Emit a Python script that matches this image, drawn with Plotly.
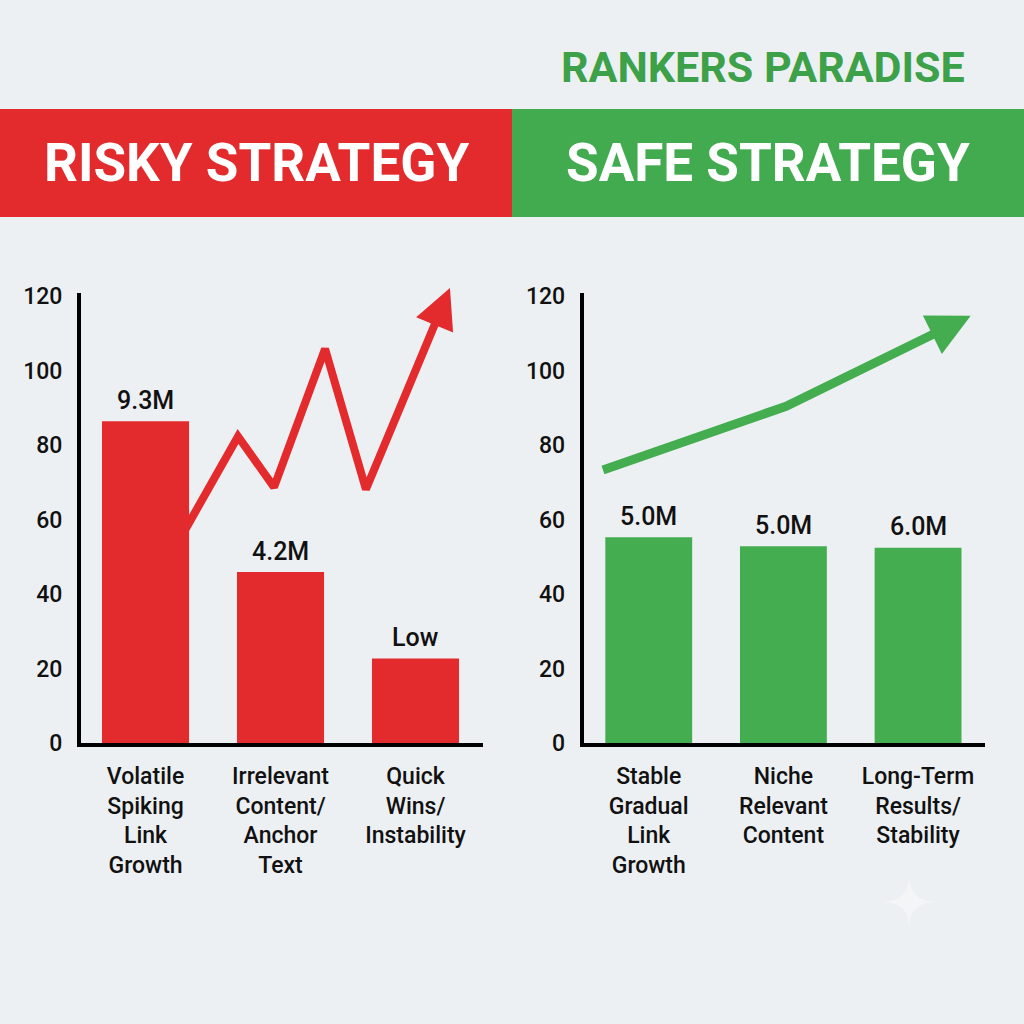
import plotly.graph_objects as go

# ---------------- data ----------------
risky_categories = ["Volatile<br>Spiking<br>Link<br>Growth",
                    "Irrelevant<br>Content/<br>Anchor<br>Text",
                    "Quick<br>Wins/<br>Instability"]
risky_values = [86.4, 45.9, 22.7]
risky_labels = ["9.3M", "4.2M", "Low"]
risky_trend_x = [0.29, 0.685, 0.952, 1.33, 1.633, 2.227]
risky_trend_y = [57.0, 82.3, 68.7, 105.8, 68.1, 119.7]

safe_categories = ["Stable<br>Gradual<br>Link<br>Growth",
                   "Niche<br>Relevant<br>Content",
                   "Long-Term<br>Results/<br>Stability"]
safe_values = [55.2, 52.8, 52.4]
safe_labels = ["5.0M", "5.0M", "6.0M"]
safe_trend_x = [-0.34, 1.02, 2.324]
safe_trend_y = [73.3, 90.4, 113.5]

y_ticks = [0, 20, 40, 60, 80, 100, 120]

title_text = "RANKERS PARADISE"
left_banner = "RISKY STRATEGY"
right_banner = "SAFE STRATEGY"

# ---------------- style ----------------
BG = "#edf0f3"
RED = "#e32b2d"
GREEN = "#43ad50"
BANNER_GREEN = "#42ab4f"
TITLE_GREEN = "#3ca149"
W = H = 1024
FONT = "Roboto"
HEAD = "Roboto"

def px(v):
    return v / W

def py(v):
    return 1 - v / H

fig = go.Figure()

risky_idx = list(range(len(risky_categories)))
safe_idx = list(range(len(safe_categories)))

fig.add_trace(go.Bar(x=risky_idx, y=risky_values, width=0.645, marker=dict(color=RED, line=dict(width=0)),
                     xaxis="x", yaxis="y", hoverinfo="skip"))
fig.add_trace(go.Scatter(x=risky_trend_x, y=risky_trend_y, mode="lines",
                         line=dict(color=RED, width=8), xaxis="x", yaxis="y", hoverinfo="skip"))

fig.add_trace(go.Bar(x=safe_idx, y=safe_values, width=0.645, marker=dict(color=GREEN, line=dict(width=0)),
                     xaxis="x2", yaxis="y2", hoverinfo="skip"))
fig.add_trace(go.Scatter(x=safe_trend_x, y=safe_trend_y, mode="lines",
                         line=dict(color=GREEN, width=9), xaxis="x2", yaxis="y2", hoverinfo="skip"))

label_font = dict(family=FONT, size=25, color="#111", weight=500)
annotations = []
for i, (v, t) in enumerate(zip(risky_values, risky_labels)):
    annotations.append(dict(x=i, y=v, xref="x", yref="y", text=t, showarrow=False,
                            yanchor="middle", yshift=21, font=label_font))
for i, (v, t) in enumerate(zip(safe_values, safe_labels)):
    annotations.append(dict(x=i, y=v, xref="x2", yref="y2", text=t, showarrow=False,
                            yanchor="middle", yshift=21, font=label_font))

# arrow heads at the end of the trend lines
annotations.append(dict(x=risky_trend_x[-1], y=risky_trend_y[-1], xref="x", yref="y", text="",
                        showarrow=True, arrowhead=2, arrowsize=1.0, arrowwidth=8, arrowcolor=RED,
                        ax=-11.5, ay=27.7, xshift=3.8, yshift=9.2, font=dict(size=1), borderpad=0))
annotations.append(dict(x=safe_trend_x[-1], y=safe_trend_y[-1], xref="x2", yref="y2", text="",
                        showarrow=True, arrowhead=2, arrowsize=0.95, arrowwidth=9, arrowcolor=GREEN,
                        ax=-26.9, ay=13.3, xshift=9.0, yshift=4.4, font=dict(size=1), borderpad=0))

# titles
annotations.append(dict(x=px(967), y=py(67), xref="paper", yref="paper", text="<b>%s</b>" % title_text,
                        showarrow=False, xanchor="right", yanchor="middle",
                        font=dict(family=HEAD, size=43, color=TITLE_GREEN)))
annotations.append(dict(x=px(256), y=py(163), xref="paper", yref="paper", text="<b>%s</b>" % left_banner,
                        showarrow=False, xanchor="center", yanchor="middle",
                        font=dict(family=HEAD, size=53, color="white")))
annotations.append(dict(x=px(768), y=py(163), xref="paper", yref="paper", text="<b>%s</b>" % right_banner,
                        showarrow=False, xanchor="center", yanchor="middle",
                        font=dict(family=HEAD, size=53, color="white")))

# banner rectangles and faint sparkle decoration
cx, cy, r = px(909), py(902), px(27)
sparkle = ("M {x0},{yt} Q {cx},{cy} {xr},{cy} Q {cx},{cy} {cx},{yb} Q {cx},{cy} {xl},{cy} "
           "Q {cx},{cy} {cx},{yt} Z").format(x0=cx, yt=cy + r, cx=cx, cy=cy, xr=cx + r, yb=cy - r, xl=cx - r)
shapes = [
    dict(type="rect", xref="paper", yref="paper", x0=0, x1=0.5, y0=py(217), y1=py(109),
         fillcolor=RED, line=dict(width=0), layer="below"),
    dict(type="rect", xref="paper", yref="paper", x0=0.5, x1=1, y0=py(217), y1=py(109),
         fillcolor=BANNER_GREEN, line=dict(width=0), layer="below"),
    dict(type="path", xref="paper", yref="paper", path=sparkle,
         fillcolor="#f3f5f7", line=dict(width=0), layer="below"),
]

axis_common = dict(showline=True, linecolor="black", linewidth=4, showgrid=False, zeroline=False,
                   ticks="outside", tickcolor="rgba(0,0,0,0)", fixedrange=True, automargin=False)
xtick_font = dict(family=FONT, size=23, color="#111", weight=500)
ytick_font = dict(family=FONT, size=23, color="#111", weight=500)

fig.update_layout(
    width=W, height=H, autosize=False,
    margin=dict(l=0, r=0, t=0, b=0, pad=0, autoexpand=False),
    paper_bgcolor=BG, plot_bgcolor=BG,
    showlegend=False,
    bargap=0.355,
    annotations=annotations,
    shapes=shapes,
    xaxis=dict(domain=[px(81), px(483)], range=[-0.478, 2.5], anchor="y",
               tickvals=risky_idx, ticktext=risky_categories, ticklen=9,
               tickfont=xtick_font, **axis_common),
    yaxis=dict(domain=[py(743), py(293)], range=[0, 120.8], anchor="x",
               tickvals=y_ticks, ticklen=10,
               tickfont=ytick_font, **axis_common),
    xaxis2=dict(domain=[px(583.7), px(985)], range=[-0.483, 2.497], anchor="y2",
                tickvals=safe_idx, ticktext=safe_categories, ticklen=9,
                tickfont=xtick_font, **axis_common),
    yaxis2=dict(domain=[py(743), py(293)], range=[0, 120.8], anchor="x2",
                tickvals=y_ticks, ticklen=10,
                tickfont=ytick_font, **axis_common),
)

fig.write_html("out.html")
